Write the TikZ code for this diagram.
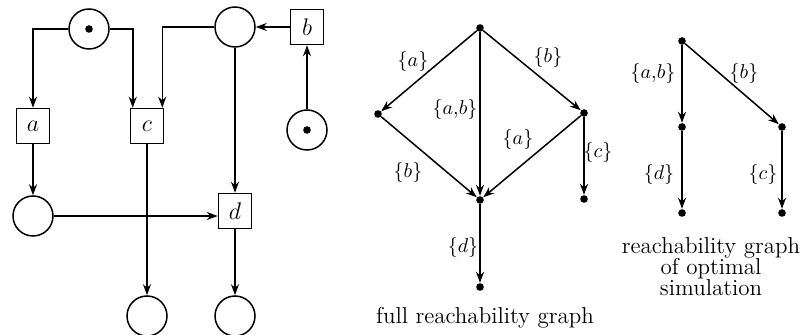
\documentclass[tikz,border=0pt]{standalone}
\usetikzlibrary{arrows.meta,positioning}

\begin{document}
\begin{tikzpicture}[
  x=0.5pt,y=-0.5pt,
  font=\fontsize{11.5}{10.5}\selectfont,
  place/.style={circle,draw,line width=0.75pt,minimum size=20pt,inner sep=0pt},
  trans/.style={rectangle,draw,line width=0.75pt,minimum width=16.5pt,minimum height=17.5pt,inner sep=0pt},
  state/.style={circle,fill,inner sep=0pt,minimum size=3.8pt},
  line/.style={-{Stealth[length=5.5pt,width=4pt]},line width=0.75pt},
  lab/.style={font=\normalsize}
]
  \useasboundingbox (0,0) rectangle (806,335);

  % Petri net
  \node[place] (p1) at (89,29) {};
  \node[state] (p1tok) at (p1) {};
  \node[place] (p2) at (235,27) {};
  \node[trans] (b) at (307,27) {$b$};
  \node[place] (p3) at (307,130) {};
  \node[state] (p3tok) at (p3) {};
  \node[trans] (a) at (33,126) {$a$};
  \node[trans] (c) at (147,126) {$c$};
  \node[place] (p4) at (33,216) {};
  \node[trans] (d) at (235,211) {$d$};
  \node[place] (p5) at (147,316) {};
  \node[place] (p6) at (235,316) {};

  \draw[line] (p1.west) -| (a.north);
  \draw[line] (p1.east) -| ([xshift=1.5pt]c.north west);
  \draw[line] (p2.west) -| ([xshift=-1pt]c.north east);
  \draw[line] (b.west) -- (p2.east);
  \draw[line] (p3.north) -- (b.south);
  \draw[line] (p2.south) -- (d.north);
  \draw[line] (a.south) -- (p4.north);
  \draw[line] (p4.east) -- (p4.east -| d.west);
  \draw[line] (c.south) -- (p5.north);
  \draw[line] (d.south) -- (p6.north);

  % full reachability graph
  \node[state] (t) at (480,28) {};
  \node[state] (l) at (378,114) {};
  \node[state] (r) at (584,113) {};
  \node[state] (m) at (480,200) {};
  \node[state] (bt) at (480,287) {};
  \node[state] (rb) at (584,199) {};

  \draw[line] (t) -- (l);
  \draw[line] (t) -- (r);
  \draw[line] (t) -- (m);
  \draw[line] (l) -- (m);
  \draw[line] (r) -- (m);
  \draw[line] (r) -- (rb);
  \draw[line] (m) -- (bt);

  \node[lab] (la1) at (413,62) {$\{a\}$};
  \node[lab] (lb1) at (548,58) {$\{b\}$};
  \node[lab] (lab1) at (455,110) {$\{a{,}b\}$};
  \node[lab] (la2) at (518,140) {$\{a\}$};
  \node[lab] (lb2) at (408,173) {$\{b\}$};
  \node[lab] (lc1) at (598,153) {$\{c\}$};
  \node[lab] (ld1) at (463,248) {$\{d\}$};
  \node (cap1) at (485,318) {full reachability graph};

  % reachability graph of optimal simulation
  \node[state] (t2) at (682,41) {};
  \node[state] (m2) at (682,127) {};
  \node[state] (r2) at (782,127) {};
  \node[state] (bl2) at (682,213) {};
  \node[state] (br2) at (782,213) {};

  \draw[line] (t2) -- (m2);
  \draw[line] (t2) -- (r2);
  \draw[line] (m2) -- (bl2);
  \draw[line] (r2) -- (br2);

  \node[lab] (lab2) at (653,74) {$\{a{,}b\}$};
  \node[lab] (lb3) at (744,74) {$\{b\}$};
  \node[lab] (ld2) at (659,175) {$\{d\}$};
  \node[lab] (lc2) at (763,175) {$\{c\}$};
  \node[align=center] (cap2) at (711,267) {reachability graph\\of optimal\\simulation};
\end{tikzpicture}
\end{document}
